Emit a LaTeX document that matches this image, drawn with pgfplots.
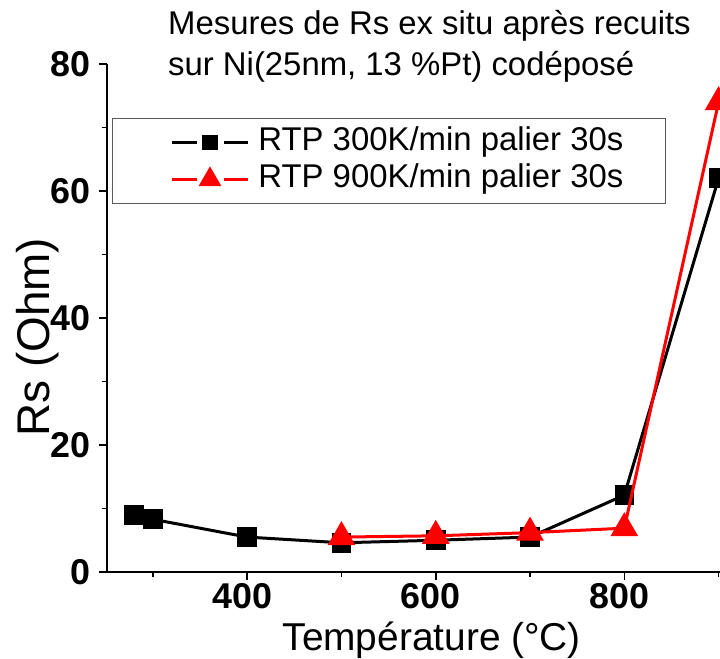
\documentclass[border=0pt]{standalone}
\usepackage{pgfplots}
\pgfplotsset{compat=1.18}
\usepackage{fontspec}
\setmainfont{Liberation Sans}
\begin{document}
\begin{tikzpicture}
\begin{axis}[
  at={(0,0)}, anchor=south west,
  scale only axis, width=613.3bp, height=508bp,
  xmin=251, xmax=901.5, ymin=0, ymax=80,
  axis x line*=bottom, axis y line*=left,
  axis line style={-, line width=2bp},
  xtick={400,600,800}, minor xtick={300,500,700,900},
  ytick={0,20,40,60,80}, minor ytick={10,30,50,70},
  tick align=outside,
  major tick length=8bp, minor tick length=5bp,
  every tick/.style={line width=1.6bp, black},
  tick label style={font=\fontsize{36}{36}\selectfont\bfseries},
  xticklabel style={xshift=-5bp},
  yticklabel style={xshift=-5bp},
  /pgf/number format/assume math mode=true,
  clip mode=individual,
  clip marker paths=true,
  xlabel={Température (°C)},
  xlabel style={at={(axis description cs:0.53,-0.1545)}, anchor=base, font=\fontsize{39}{39}\selectfont},
  ylabel={Rs (Ohm)},
  ylabel style={at={(axis description cs:-0.0925,0.4626)}, anchor=base, rotate=0, font=\fontsize{46}{46}\selectfont},
  legend style={at={(axis description cs:0.0086,0.8937)}, anchor=north west,
    draw=gray!70!black, line width=1bp, font=\fontsize{33}{39}\selectfont,
    inner xsep=33bp, inner ysep=5.5bp, cells={anchor=west},
    nodes={inner xsep=9bp, inner ysep=3bp, text height=24bp, text depth=7bp}},
  legend image code/.code={
    \path (-25bp,0bp) (76bp,0bp);
    \draw[#1, mark=none] (0bp,0bp) -- (25bp,0bp) (52bp,0bp) -- (76bp,0bp);
    \draw[#1, every mark/.append style={scale=0.78}] plot coordinates {(38bp,0bp)};
  },
]
\addplot[black, line width=3bp, mark=square*, mark size=8.3bp, mark options={solid}]
  coordinates {(280,9.0)(300,8.3)(400,5.5)(500,4.6)(600,5.0)(700,5.5)(800,12.1)(900,62)};
\addlegendentry{RTP 300K/min palier 30s}
\addplot[red, line width=3bp, mark=triangle*, mark size=13bp, mark options={solid}]
  coordinates {(500,5.5)(600,5.7)(700,6.2)(800,6.9)(900,74)};
\addlegendentry{RTP 900K/min palier 30s}
\end{axis}
\node[anchor=base west, font=\fontsize{33}{40}\selectfont, inner sep=0pt] at (61.3bp,537bp) {Mesures de Rs ex situ après recuits};
\node[anchor=base west, font=\fontsize{33}{40}\selectfont, inner sep=0pt] at (61.3bp,496bp) {sur Ni(25nm, 13 \%Pt) codéposé};
\pgfresetboundingbox
\useasboundingbox (-106.7bp,-87bp) rectangle (613.3bp,572bp);
\end{tikzpicture}
\end{document}
